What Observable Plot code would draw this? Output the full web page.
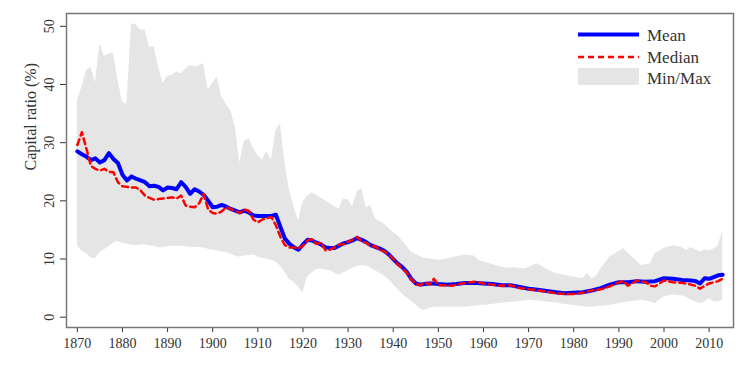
<!DOCTYPE html>
<html><head><meta charset="utf-8">
<script src="https://cdn.jsdelivr.net/npm/d3@7"></script>
<script src="https://cdn.jsdelivr.net/npm/@observablehq/plot@0.6"></script>
<style>
body{margin:0;background:#fff}
#wrap{position:relative;width:747px;height:375px}
#legend{position:absolute;left:578px;top:24px}
</style>
</head><body><div id="wrap"></div>
<script>
// ---- Data ----
const bandYears = d3.range(1870, 1951).concat([
  1952,1954,1956,1958,1959,1961,1963,1965,1967,1969,
  1970,1972,1973,1974,1976,1978,1980,1982,1983,1984,
  1985,1986,1988,1990,1991,1992,1993,1995,1997,1998,
  2000,2002,2004,2005,2006,2008,2009,2010,2011,2012,
  2013]);
const bandMax = [
  37.3,39.5,42.3,43.0,40.3,47.0,44.8,45.2,45.4,40.7,   // 1870s
  37.0,36.6,50.4,50.3,49.3,49.4,46.4,46.5,43.0,40.2,   // 1880s
  41.4,41.6,42.2,41.8,42.6,43.3,43.0,43.2,43.6,39.0,   // 1890s
  40.2,41.3,37.9,36.5,35.5,32.7,26.5,30.2,30.7,29.0,   // 1900s
  27.8,27.0,28.5,27.0,32.0,33.3,26.5,21.8,19.0,16.5,   // 1910s
  19.8,20.8,21.4,21.0,20.5,20.0,19.5,19.0,18.6,20.3,   // 1920s
  20.2,19.0,21.5,22.1,18.8,19.2,17.0,16.4,16.0,15.3,   // 1930s
  14.6,14.0,13.2,12.2,11.2,10.8,10.4,10.1,10.0,9.9,    // 1940s
  9.8,                                                 // 1950
  10.0,10.4,10.7,10.5,9.7,9.3,8.8,8.4,8.5,8.3,
  8.6,9.2,8.7,8.2,7.5,7.2,6.9,6.6,7.5,6.6,
  7.0,8.3,10.3,11.3,11.8,11.0,10.3,8.9,9.2,10.9,
  11.8,12.3,12.0,11.5,12.0,11.2,11.6,11.4,11.7,12.3,
  14.9];
const bandMin = [
  12.3,11.4,10.9,10.3,10.0,11.1,11.6,12.1,12.7,13.0,   // 1870s
  12.7,12.6,12.4,12.3,12.4,12.4,12.3,12.2,12.0,11.9,   // 1880s
  12.1,12.2,12.2,12.2,12.1,12.0,12.0,12.0,11.9,11.7,   // 1890s
  11.5,11.4,11.2,11.1,10.8,10.5,10.3,10.5,10.6,10.7,   // 1900s
  10.4,10.1,10.0,9.8,9.5,8.8,7.7,6.5,6.0,5.2,          // 1910s
  4.1,7.0,7.6,8.2,8.3,8.1,8.0,7.6,7.2,7.6,             // 1920s
  8.0,8.4,8.7,8.9,8.8,8.4,8.0,7.6,7.1,6.5,             // 1930s
  5.6,4.8,4.0,3.3,2.8,2.1,1.4,1.2,1.5,1.7,             // 1940s
  1.7,                                                 // 1950
  1.7,1.7,1.7,1.9,2.0,2.1,2.3,2.5,2.6,2.8,
  2.9,2.8,2.7,2.6,2.5,2.2,2.0,1.8,1.7,1.7,
  1.8,1.9,2.0,2.3,2.5,2.6,2.7,2.9,2.6,2.3,
  3.5,3.8,3.7,3.4,3.0,2.3,2.6,3.2,2.7,2.6,
  2.9];

const meanYears = d3.range(1870, 1951).concat([
  1952,1954,1956,1958,1960,1962,1964,1966,1968,1970,
  1972,1974,1976,1978,1980,1982,1984,1986,1988,1990,
  1992,1994,1996,1998,2000,2002,2004,2006,
  2007,2008,2009,2010,2011,2012,2013]);
const meanVals = [
  28.5,28.0,27.6,27.0,27.3,26.6,27.0,28.2,27.2,26.5,   // 1870s
  24.5,23.5,24.2,23.8,23.5,23.2,22.5,22.6,22.4,21.8,   // 1880s
  22.3,22.2,22.0,23.2,22.4,21.2,22.0,21.6,21.0,20.0,   // 1890s
  18.9,19.0,19.3,19.0,18.6,18.3,18.0,18.3,18.0,17.5,   // 1900s
  17.4,17.4,17.4,17.4,17.6,15.5,13.5,12.6,12.0,11.6,   // 1910s
  12.5,13.3,13.2,12.8,12.5,12.0,11.9,11.9,12.3,12.7,   // 1920s
  12.9,13.2,13.6,13.3,12.9,12.4,12.1,11.8,11.4,10.8,   // 1930s
  10.0,9.2,8.6,7.8,6.6,5.8,5.6,5.7,5.8,5.8,            // 1940s
  5.7,                                                 // 1950
  5.6,5.7,5.9,5.9,5.8,5.7,5.5,5.5,5.2,4.9,
  4.7,4.5,4.3,4.1,4.2,4.3,4.6,5.0,5.6,6.0,
  6.0,6.2,6.1,6.2,6.7,6.6,6.4,6.3,
  6.2,5.8,6.7,6.6,6.9,7.2,7.3];

const medianYears = d3.range(1870, 1951).concat([
  1952,1953,1954,1956,1958,1960,1962,1964,1966,1968,
  1970,1972,1974,1976,1978,1980,1982,1984,1986,1988,
  1990,1991,1992,1994,1996,1997,1998,2000,2002,2004,
  2006,2007,2008,2009,2010,2012,2013]);
const medianVals = [
  29.6,31.8,29.0,26.0,25.5,25.2,25.5,25.0,24.9,23.2,   // 1870s
  22.5,22.4,22.3,22.3,21.8,20.9,20.5,20.2,20.3,20.4,   // 1880s
  20.5,20.6,20.4,20.9,19.2,19.0,18.9,19.6,21.2,18.5,   // 1890s
  17.9,17.8,18.2,18.9,18.6,18.3,17.9,18.5,18.3,16.8,   // 1900s
  16.3,16.8,17.0,17.2,15.8,13.8,12.4,12.0,12.0,11.8,   // 1910s
  12.3,13.2,13.4,12.6,12.8,11.5,11.6,12.0,12.5,12.5,   // 1920s
  13.0,13.3,13.8,13.0,12.8,12.2,12.2,11.6,11.3,10.8,   // 1930s
  10.0,9.1,8.4,7.6,6.5,5.7,5.5,6.0,5.6,6.6,            // 1940s
  5.5,                                                 // 1950
  5.5,5.4,5.6,5.9,6.1,5.8,5.6,5.4,5.5,5.0,
  4.8,4.6,4.4,4.1,4.0,4.0,4.2,4.6,4.8,5.3,
  6.0,6.2,5.4,6.3,6.0,5.4,5.3,6.3,6.0,5.9,
  5.6,5.4,4.9,5.4,5.8,6.2,6.6];

const xTicks = [1870,1880,1890,1900,1910,1920,1930,1940,1950,1960,1970,1980,1990,2000,2010];
const yTicks = [0,10,20,30,40,50];
const yLabel = "Capital ratio (%)";
const legendLabels = ["Mean", "Median", "Min/Max"];

// ---- Build tables ----
const band = bandYears.map((year, i) => ({year, min: bandMin[i], max: bandMax[i]}));
const mean = meanYears.map((year, i) => ({year, v: meanVals[i]}));
const median = medianYears.map((year, i) => ({year, v: medianVals[i]}));

const BLUE = "#0000ff", RED = "#ff0000", GREY = "#e5e5e5", INK = "#333";
const FONT = "'Liberation Serif', 'Times New Roman', serif";

const chart = Plot.plot({
  width: 747, height: 375,
  marginTop: 13, marginLeft: 66, marginRight: 14, marginBottom: 48,
  style: {fontFamily: FONT, fontSize: "14px", color: INK, background: "#fff"},
  x: {domain: [1867.6, 2015.4], ticks: xTicks, tickFormat: d => String(d), tickSize: 5, tickPadding: 6, label: null},
  y: {domain: [-1.77, 52.2], ticks: yTicks, tickSize: 6, tickPadding: 7, tickRotate: -90, label: null},
  marks: [
    Plot.areaY(band, {x: "year", y1: "min", y2: "max", fill: GREY}),
    Plot.lineY(mean, {x: "year", y: "v", stroke: BLUE, strokeWidth: 4, strokeLinejoin: "round"}),
    Plot.lineY(median, {x: "year", y: "v", stroke: RED, strokeWidth: 2.5, strokeDasharray: "6,4"}),
    Plot.frame({stroke: "#777", strokeWidth: 1.5}),
    Plot.text([yLabel], {text: d => d, frameAnchor: "left", dx: -36, rotate: -90, fontSize: 16, fill: INK})
  ]
});
const wrap = document.getElementById("wrap");
wrap.appendChild(chart);

// ---- Legend (inside the plot, upper right) ----
const lg = d3.select(wrap).append("svg").attr("id", "legend")
  .attr("width", 165).attr("height", 66)
  .style("font-family", FONT).style("font-size", "17px");
lg.append("line").attr("x1", 0).attr("x2", 61).attr("y1", 10.5).attr("y2", 10.5)
  .attr("stroke", BLUE).attr("stroke-width", 4);
lg.append("line").attr("x1", 0).attr("x2", 61).attr("y1", 33).attr("y2", 33)
  .attr("stroke", RED).attr("stroke-width", 2.5).attr("stroke-dasharray", "6,4");
lg.append("rect").attr("x", 0).attr("y", 44).attr("width", 61).attr("height", 17).attr("fill", GREY);
const baselines = [16.5, 39, 59.5];
legendLabels.forEach((t, i) => {
  lg.append("text").attr("x", 69).attr("y", baselines[i]).attr("fill", INK).text(t);
});
</script>
</body></html>
